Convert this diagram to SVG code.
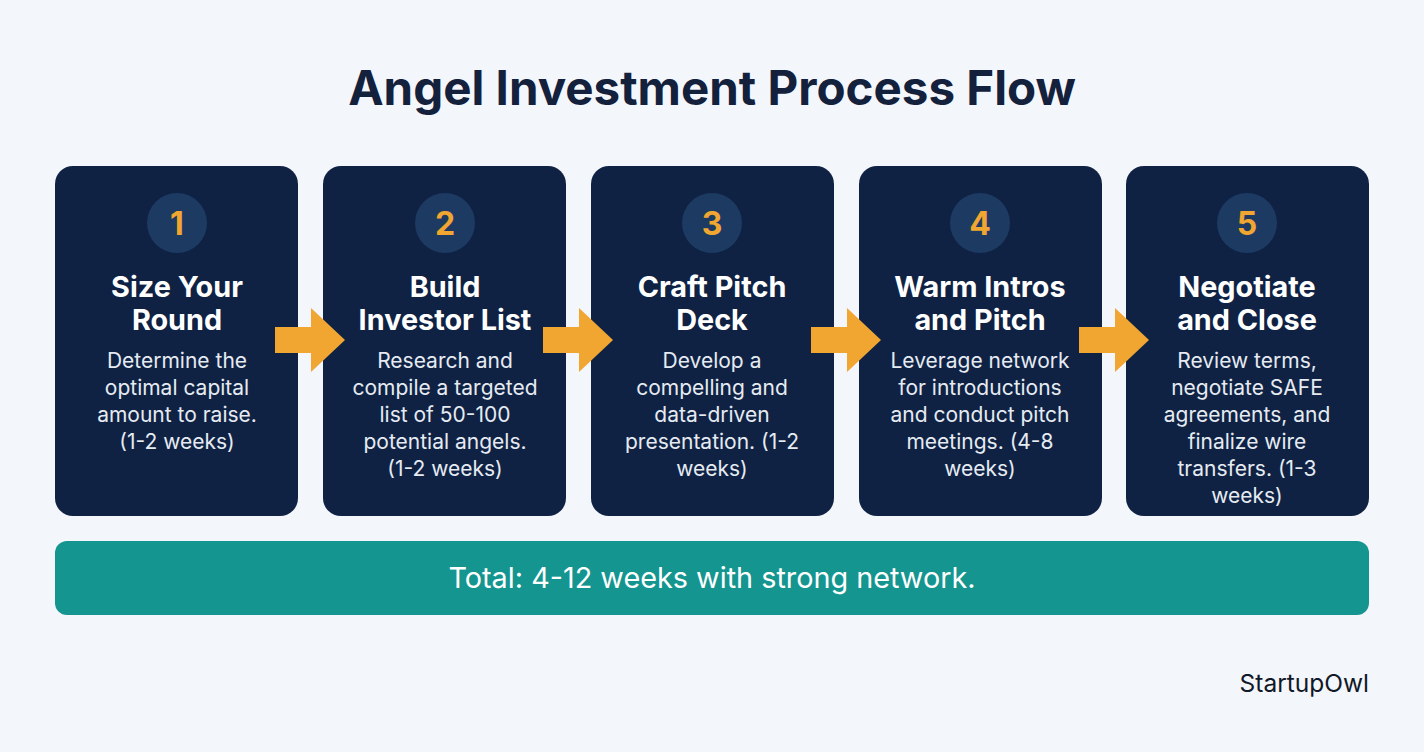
<svg xmlns="http://www.w3.org/2000/svg" width="1424" height="752" viewBox="0 0 1424 752">
<defs>
<style>
.card{fill:#0f2244;}
.num{fill:#1d3a63;}
.nt{font-family:Inter,"Liberation Sans",sans-serif;font-weight:700;font-size:32px;fill:#f0a630;text-anchor:middle;}
.h{font-family:Inter,"Liberation Sans",sans-serif;font-weight:700;font-size:28.8px;fill:#ffffff;text-anchor:middle;}
.d{font-family:Inter,"Liberation Sans",sans-serif;font-size:21px;fill:#e6ebf2;text-anchor:middle;}
.arr{fill:#f0a630;}
</style>
</defs>
<rect width="1424" height="752" fill="#f3f6fa"/>
<text x="712" y="105" font-family="Inter,'Liberation Sans',sans-serif" font-weight="700" font-size="47.5" fill="#14213d" text-anchor="middle">Angel Investment Process Flow</text>
<g id="n1"><rect class="card" x="55" y="166" width="243" height="350" rx="18"/><circle class="num" cx="177" cy="223" r="30"/><text class="nt" x="177" y="235">1</text>
<text class="h" x="177" y="297">Size Your</text><text class="h" x="177" y="330">Round</text>
<text class="d" x="177" y="368">Determine the</text><text class="d" x="177" y="395">optimal capital</text><text class="d" x="177" y="422">amount to raise.</text><text class="d" x="177" y="449">(1-2 weeks)</text></g>
<g id="n2"><rect class="card" x="323" y="166" width="243" height="350" rx="18"/><circle class="num" cx="445" cy="223" r="30"/><text class="nt" x="445" y="235">2</text>
<text class="h" x="445" y="297">Build</text><text class="h" x="445" y="330">Investor List</text>
<text class="d" x="445" y="368">Research and</text><text class="d" x="445" y="395">compile a targeted</text><text class="d" x="445" y="422">list of 50-100</text><text class="d" x="445" y="449">potential angels.</text><text class="d" x="445" y="476">(1-2 weeks)</text></g>
<g id="n3"><rect class="card" x="591" y="166" width="243" height="350" rx="18"/><circle class="num" cx="712" cy="223" r="30"/><text class="nt" x="712" y="235">3</text>
<text class="h" x="712" y="297">Craft Pitch</text><text class="h" x="712" y="330">Deck</text>
<text class="d" x="712" y="368">Develop a</text><text class="d" x="712" y="395">compelling and</text><text class="d" x="712" y="422">data-driven</text><text class="d" x="712" y="449">presentation. (1-2</text><text class="d" x="712" y="476">weeks)</text></g>
<g id="n4"><rect class="card" x="859" y="166" width="243" height="350" rx="18"/><circle class="num" cx="980" cy="223" r="30"/><text class="nt" x="980" y="235">4</text>
<text class="h" x="980" y="297">Warm Intros</text><text class="h" x="980" y="330">and Pitch</text>
<text class="d" x="980" y="368">Leverage network</text><text class="d" x="980" y="395">for introductions</text><text class="d" x="980" y="422">and conduct pitch</text><text class="d" x="980" y="449">meetings. (4-8</text><text class="d" x="980" y="476">weeks)</text></g>
<g id="n5"><rect class="card" x="1126" y="166" width="243" height="350" rx="18"/><circle class="num" cx="1247" cy="223" r="30"/><text class="nt" x="1247" y="235">5</text>
<text class="h" x="1247" y="297">Negotiate</text><text class="h" x="1247" y="330">and Close</text>
<text class="d" x="1247" y="368">Review terms,</text><text class="d" x="1247" y="395">negotiate SAFE</text><text class="d" x="1247" y="422">agreements, and</text><text class="d" x="1247" y="449">finalize wire</text><text class="d" x="1247" y="476">transfers. (1-3</text><text class="d" x="1247" y="503">weeks)</text></g>
<g id="connectors">
<polygon class="arr" points="275,327 311,327 311,308 345,340 311,372 311,353 275,353"/>
<polygon class="arr" points="543,327 579,327 579,308 613,340 579,372 579,353 543,353"/>
<polygon class="arr" points="811,327 847,327 847,308 881,340 847,372 847,353 811,353"/>
<polygon class="arr" points="1079,327 1115,327 1115,308 1149,340 1115,372 1115,353 1079,353"/>
</g>
<g id="total"><rect x="55" y="541" width="1314" height="74" rx="12" fill="#14958f"/>
<text x="712" y="588" font-family="Inter,'Liberation Sans',sans-serif" font-size="28.8" fill="#ffffff" text-anchor="middle">Total: 4-12 weeks with strong network.</text></g>
<text x="1369" y="692" font-family="Inter,'Liberation Sans',sans-serif" font-size="24.5" fill="#111827" text-anchor="end">StartupOwl</text>
</svg>
